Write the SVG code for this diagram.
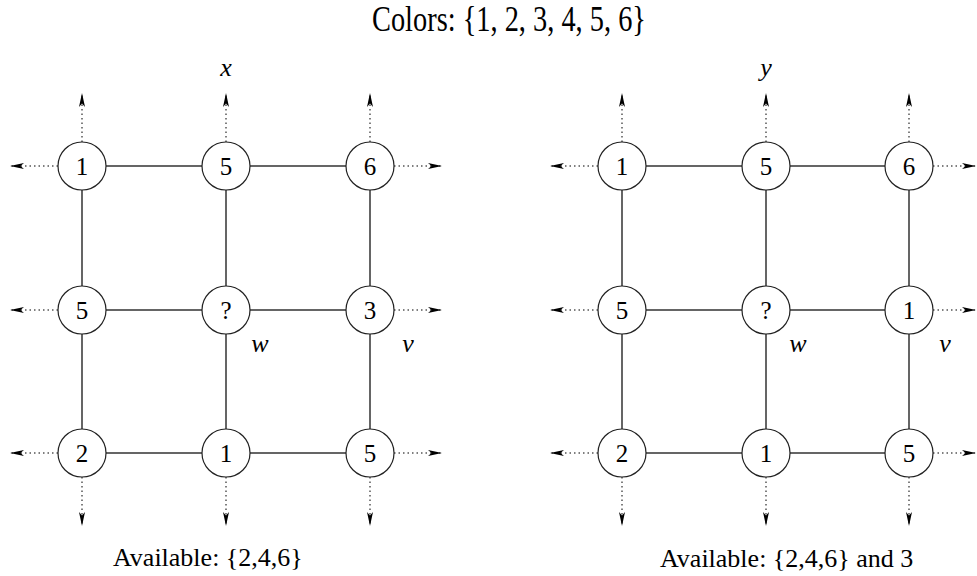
<svg xmlns="http://www.w3.org/2000/svg" width="977" height="576" viewBox="0 0 977 576">
<style>
text{font-family:"Liberation Serif","Times New Roman",serif;fill:#000}
.t{font-size:26px}
.h{font-size:36px}
.n{font-size:25px;text-anchor:middle}
.i{font-size:26px;font-style:italic;text-anchor:middle}
circle{fill:#fff;stroke:#222;stroke-width:1.2}
.e{stroke:#333;stroke-width:1.5;fill:none}
.d{stroke:#555;stroke-width:1.5;stroke-dasharray:1.5 3;fill:none;marker-end:url(#ah)}
</style>
<defs>
<marker id="ah" markerUnits="userSpaceOnUse" viewBox="0 0 14 6" refX="14" refY="3" markerWidth="14" markerHeight="6" orient="auto">
<path d="M0,0 L14,3 L0,6 L3.5,3 z" fill="#000"/>
</marker>
</defs>
<rect width="977" height="576" fill="#fff"/>
<text class="h" x="372" y="31" textLength="274" lengthAdjust="spacingAndGlyphs">Colors: {1, 2, 3, 4, 5, 6}</text>
<text class="i" x="226" y="76">x</text>
<text class="i" x="766" y="76">y</text>
<text class="i" x="260" y="352">w</text>
<text class="i" x="408" y="352">v</text>
<text class="i" x="798" y="352">w</text>
<text class="i" x="945" y="352">v</text>
<text class="t" x="113" y="566">Available: {2,4,6}</text>
<text class="t" x="660" y="567">Available: {2,4,6} and 3</text>
<g id="connectors">
<path class="e" d="M106,166H202M250,166H346M106,310H202M250,310H346M106,453H202M250,453H346"/>
<path class="e" d="M82,190V286M82,334V429M226,190V286M226,334V429M370,190V286M370,334V429"/>
<path class="e" d="M646,166H742M790,166H885M646,310H742M790,310H885M646,453H742M790,453H885"/>
<path class="e" d="M622,190V286M622,334V429M766,190V286M766,334V429M909,190V286M909,334V429"/>
<path class="d" d="M82,142V93"/><path class="d" d="M226,142V93"/><path class="d" d="M370,142V93"/>
<path class="d" d="M82,477V526"/><path class="d" d="M226,477V526"/><path class="d" d="M370,477V526"/>
<path class="d" d="M58,166H10"/><path class="d" d="M58,310H10"/><path class="d" d="M58,453H10"/>
<path class="d" d="M394,166H442"/><path class="d" d="M394,310H442"/><path class="d" d="M394,453H442"/>
<path class="d" d="M622,142V93"/><path class="d" d="M766,142V93"/><path class="d" d="M909,142V93"/>
<path class="d" d="M622,477V526"/><path class="d" d="M766,477V526"/><path class="d" d="M909,477V526"/>
<path class="d" d="M598,166H550"/><path class="d" d="M598,310H550"/><path class="d" d="M598,453H550"/>
<path class="d" d="M933,166H976"/><path class="d" d="M933,310H976"/><path class="d" d="M933,453H976"/>
</g>
<g id="L11"><circle cx="82" cy="166" r="24"/><text class="n" x="82" y="175">1</text></g>
<g id="L12"><circle cx="226" cy="166" r="24"/><text class="n" x="226" y="175">5</text></g>
<g id="L13"><circle cx="370" cy="166" r="24"/><text class="n" x="370" y="175">6</text></g>
<g id="L21"><circle cx="82" cy="310" r="24"/><text class="n" x="82" y="319">5</text></g>
<g id="L22"><circle cx="226" cy="310" r="24"/><text class="n" x="226" y="319">?</text></g>
<g id="L23"><circle cx="370" cy="310" r="24"/><text class="n" x="370" y="319">3</text></g>
<g id="L31"><circle cx="82" cy="453" r="24"/><text class="n" x="82" y="462">2</text></g>
<g id="L32"><circle cx="226" cy="453" r="24"/><text class="n" x="226" y="462">1</text></g>
<g id="L33"><circle cx="370" cy="453" r="24"/><text class="n" x="370" y="462">5</text></g>
<g id="R11"><circle cx="622" cy="166" r="24"/><text class="n" x="622" y="175">1</text></g>
<g id="R12"><circle cx="766" cy="166" r="24"/><text class="n" x="766" y="175">5</text></g>
<g id="R13"><circle cx="909" cy="166" r="24"/><text class="n" x="909" y="175">6</text></g>
<g id="R21"><circle cx="622" cy="310" r="24"/><text class="n" x="622" y="319">5</text></g>
<g id="R22"><circle cx="766" cy="310" r="24"/><text class="n" x="766" y="319">?</text></g>
<g id="R23"><circle cx="909" cy="310" r="24"/><text class="n" x="909" y="319">1</text></g>
<g id="R31"><circle cx="622" cy="453" r="24"/><text class="n" x="622" y="462">2</text></g>
<g id="R32"><circle cx="766" cy="453" r="24"/><text class="n" x="766" y="462">1</text></g>
<g id="R33"><circle cx="909" cy="453" r="24"/><text class="n" x="909" y="462">5</text></g>
</svg>
